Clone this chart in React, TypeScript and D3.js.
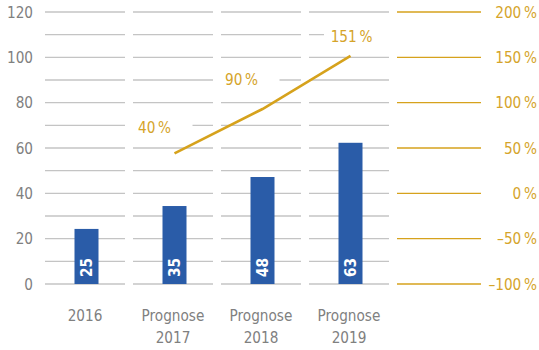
import React from "react";
import * as d3 from "d3";

const categories = ["2016", "Prognose 2017", "Prognose 2018", "Prognose 2019"];
const barValues = [24.3, 34.4, 47.2, 62.3];
const barLabels = ["25", "35", "48", "63"];
const lineCategories = ["Prognose 2017", "Prognose 2018", "Prognose 2019"];
const lineValues = [44, 93, 151.5];
const lineLabels = ["40\u2009%", "90\u2009%", "151\u2009%"];
const leftTicks = [0, 20, 40, 60, 80, 100, 120];
const rightTicks = [-100, -50, 0, 50, 100, 150, 200];
const rightTickLabels = ["\u2013100\u2009%", "\u201350\u2009%", "0\u2009%", "50\u2009%", "100\u2009%", "150\u2009%", "200\u2009%"];

const W = 539, H = 350;
const FONT = "'DejaVu Sans Condensed', 'DejaVu Sans', sans-serif";
const GRAY = "#c4c4c4";
const TEXT = "#808080";
const GOLD = "#d6a21c";
const GOLD_TEXT = "#d5a42a";
const BLUE = "#2a5ca8";
const FS = 16.5;
const SX = 0.92;

function T({ x, y, anchor, fill, children, dy = "0.35em", weight = "normal", rotate = 0 }: any) {
  return (
    <text transform={`translate(${x},${y}) rotate(${rotate}) scale(${SX},1)`} dy={dy} textAnchor={anchor} fontSize={FS} fill={fill} fontWeight={weight}>
      {children}
    </text>
  );
}

export default function App() {
  const x = d3.scaleBand<string>().domain([...categories, "__right"]).range([41, 481]).paddingInner(0).paddingOuter(0);
  const yL = d3.scaleLinear().domain([0, 120]).range([284, 12]);
  const yR = d3.scaleLinear().domain([-100, 200]).range([284, 12]);
  const gridVals = d3.range(0, 121, 10);
  const cx = (c: string) => (x(c) as number) + x.bandwidth() / 2 + 1.5;
  const line = d3.line<number>().x((_, i) => cx(lineCategories[i])).y((d) => yR(d));
  const labelOffsets = [[-20, -26], [-21, -30], [1, -20]];
  const labelBoxes = [[36, 20], [36, 20], [45, 20]];

  return (
    <svg width={W} height={H} style={{ position: "absolute", left: 0, top: 0, background: "#fff" }} fontFamily={FONT}>
      {categories.map((c) =>
        gridVals.map((v) => (
          <line key={c + v} x1={(x(c) as number) + 4} x2={(x(c) as number) + x.bandwidth() - 4} y1={yL(v)} y2={yL(v)} stroke={GRAY} strokeWidth={1.4} />
        ))
      )}
      {rightTicks.map((v) => (
        <line key={"r" + v} x1={(x("__right") as number) + 4} x2={(x("__right") as number) + x.bandwidth()} y1={yR(v)} y2={yR(v)} stroke={GOLD} strokeWidth={1.4} />
      ))}
      {leftTicks.map((v) => (
        <T key={"lt" + v} x={33} y={yL(v)} anchor="end" fill={TEXT}>{v}</T>
      ))}
      {rightTicks.map((v, i) => (
        <T key={"rt" + v} x={537} y={yR(v)} anchor="end" fill={GOLD_TEXT}>{rightTickLabels[i]}</T>
      ))}
      {categories.map((c) => {
        const parts = c.split(" ");
        return parts.map((p, i) => (
          <T key={"xl" + c + i} x={cx(c) - 1.5} y={321 + i * 22} dy="0" anchor="middle" fill={TEXT}>{p}</T>
        ));
      })}
      {categories.map((c, i) => (
        <rect key={"b" + c} x={cx(c) - 12} width={24} y={yL(barValues[i])} height={yL(0) - yL(barValues[i])} fill={BLUE} />
      ))}
      {categories.map((c, i) => (
        <T key={"bl" + c} x={cx(c)} y={yL(0) - 7} rotate={-90} dy="0.36em" anchor="start" weight="bold" fill="#fff">{barLabels[i]}</T>
      ))}
      <path d={line(lineValues) || ""} fill="none" stroke={GOLD} strokeWidth={2.6} />
      {lineValues.map((v, i) => {
        const lx = cx(lineCategories[i]) + labelOffsets[i][0];
        const ly = yR(v) + labelOffsets[i][1];
        return (
          <g key={"ll" + i}>
            <rect x={lx - labelBoxes[i][0] / 2 - 5} y={ly - 10} width={labelBoxes[i][0] + 25} height={labelBoxes[i][1]} fill="#fff" />
            <T x={lx} y={ly} anchor="middle" fill={GOLD_TEXT}>{lineLabels[i]}</T>
          </g>
        );
      })}
    </svg>
  );
}
